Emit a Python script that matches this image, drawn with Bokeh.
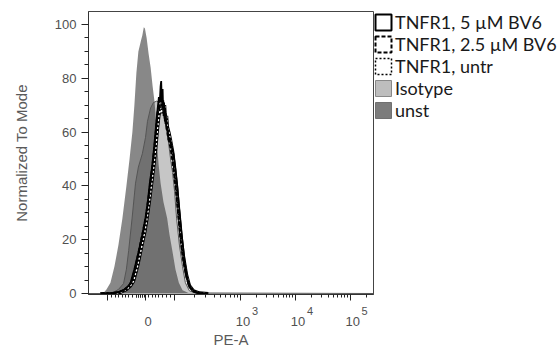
from bokeh.plotting import figure
from bokeh.models import FixedTicker, Range1d, Legend, LegendItem, ColumnDataSource, LinearAxis
from bokeh.embed import file_html
from bokeh.resources import INLINE

nan = float("nan")

# x values are positions on the (logicle) display scale, 0..1000 across the plot
x_ticks = [67, 200, 302, 533, 726, 918]
x_minor = [81, 93, 105, 118, 130, 142, 154, 167, 170, 174, 177, 181, 184, 188, 191, 195,
           212, 224, 235, 247, 261, 274, 287,
           372, 412, 441, 464, 482, 497, 511, 522,
           591, 625, 649, 668, 683, 696, 707, 717,
           784, 818, 842, 860, 875, 888, 899, 909, 976]
label_ticks = [200, 533, 726, 918]
base_labels = {200: "0", 533: "10", 726: "10", 918: "10"}
exp_ticks = [533, 726, 918]
exp_labels = {533: "3", 726: "4", 918: "5"}
y_ticks = [0, 20, 40, 60, 80, 100]
y_minor = [5, 10, 15, 25, 30, 35, 45, 50, 55, 65, 70, 75, 85, 90, 95]

x_unst = [0, 42, 53, 63, 77, 91, 105, 119, 133, 144, 154, 161, 168, 175, 184, 189, 194, 198, 204, 211,
          218, 225, 232, 237, 241, 246, 253, 263, 276, 284, 294, 305, 317, 330, 351, 1000]
y_unst = [0, 0, 0.3, 1.5, 4, 10, 18, 28, 40, 50, 60, 70, 82, 90, 94, 96, 99, 98.5, 95, 89,
          84, 77, 71, 64, 55, 48, 41, 34, 28, 22, 16, 9, 4, 1.2, 0.2, 0]

x_iso = [0, 60, 84, 105, 123, 133, 141, 153, 165, 175, 189, 200, 207, 218, 228, 239, 249, 256, 263, 270,
         281, 288, 295, 302, 309, 319, 330, 340, 354, 375, 1000]
y_iso = [0, 0, 0.3, 1.5, 3.7, 9, 16, 28, 41, 47, 52, 58, 64, 69, 71, 71.5, 71, 70, 67, 63,
         56, 50, 45, 38, 28, 18, 10, 4, 1, 0.2, 0]

x_5uM = [42, 77, 105, 126, 140, 147, 161, 177, 189, 200, 209, 215, 223, 229, 235, 240, 244, 247, 250, 253,
         255, 257, 260, 262, 265, 268, 271, 274, 277, 281, 284, 291, 298, 305, 312, 319, 328, 337, 347, 358,
         372, 393, 420]
y_5uM = [0, 0, 0.5, 1.5, 2.8, 3.7, 9, 16, 22, 28, 35, 41, 47, 53, 60, 66, 70, 73, 71, 77,
         79, 72, 76, 68, 71, 64, 67, 61, 62, 57, 58, 55, 52, 46, 39, 31, 21, 12, 5.5, 2.2,
         0.7, 0.1, 0]

x_25uM = [42, 77, 105, 126, 140, 151, 165, 179, 191, 202, 211, 218, 225, 232, 237, 242, 246, 249, 253, 256,
          259, 262, 264, 268, 271, 274, 278, 282, 288, 295, 302, 309, 316, 324, 333, 344, 354, 368, 389, 420]
y_25uM = [0, 0, 0.4, 1.4, 2.6, 4.5, 10, 17, 23, 29, 36, 42, 48, 55, 61, 67, 70, 68, 73, 74,
          69, 72, 66, 69, 63, 64, 59, 57, 54, 49, 43, 36, 28, 19, 12, 6, 2.5, 0.8, 0.1, 0]

x_untr = [42, 84, 112, 133, 147, 158, 172, 186, 198, 207, 216, 223, 230, 237, 242, 247, 253, 256, 260, 263,
          267, 270, 274, 277, 282, 288, 295, 302, 309, 316, 324, 333, 344, 354, 368, 389, 420]
y_untr = [0, 0, 0.4, 1.5, 2.8, 4.5, 10, 17, 23, 29, 36, 42, 48, 55, 61, 66, 69, 67, 71, 68,
          70, 65, 66, 62, 60, 57, 53, 47, 40, 31, 22, 14, 7, 3, 1, 0.2, 0]

labels = ["TNFR1, 5 \u00b5M BV6", "TNFR1, 2.5 \u00b5M BV6", "TNFR1, untr", "Isotype", "unst"]

p = figure(frame_width=285, frame_height=283, x_range=Range1d(0, 1000), y_range=Range1d(-0.37, 104.83),
           output_backend="svg", toolbar_location=None,
           min_border_left=88, min_border_top=11, min_border_bottom=60, min_border_right=0)
# tick labels sit a little right of their tick, exponents further right
p.extra_x_ranges = {"base": Range1d(-9, 991), "exp": Range1d(-51, 949)}
p.xgrid.visible = False
p.ygrid.visible = False
p.outline_line_color = "#444444"
p.background_fill_color = "white"
p.border_fill_color = "white"

# fills
p.varea(x=x_iso, y1=0, y2=y_iso, fill_color="#c6c6c6")
p.varea(x=x_unst, y1=0, y2=y_unst, fill_color="#383838", fill_alpha=0.6)
p.line(x_iso, y_iso, line_color="#555555", line_width=1)
# untr dotted: black band with white dots
p.line(x_untr, y_untr, line_color="black", line_width=3.2)
p.line(x_untr, y_untr, line_color="white", line_width=1.4, line_dash="2 2")
p.line(x_25uM, y_25uM, line_color="black", line_width=2, line_dash="4 2")
p.line(x_5uM, y_5uM, line_color="black", line_width=1.8)

# legend proxies (one NaN row so the legend swatch is drawn, nothing in the plot)
def proxy(**kw):
    src = ColumnDataSource(dict(left=[nan], right=[nan], top=[nan], bottom=[nan]))
    return p.quad(left="left", right="right", top="top", bottom="bottom", source=src, **kw)

r1 = proxy(fill_color=None, line_color="black", line_width=2)
r2 = proxy(fill_color=None, line_color="black", line_width=2, line_dash="4 2")
r3 = proxy(fill_color=None, line_color="black", line_width=1.5, line_dash="2 2")
r4 = proxy(fill_color="#bdbdbd", line_color="#888888", line_width=1)
r5 = proxy(fill_color="#7c7c7c", line_color="#707070", line_width=1)

legend = Legend(items=[LegendItem(label=l, renderers=[r]) for l, r in zip(labels, [r1, r2, r3, r4, r5])],
                location="top_left", glyph_width=20, glyph_height=20, label_height=20, spacing=-1,
                padding=0, margin=0, border_line_color=None, background_fill_alpha=0,
                label_standoff=2, label_text_font="Lato", label_text_font_size="18px",
                label_text_color="#1a1a1a")
p.add_layout(legend, "right")

def style(ax):
    ax.axis_line_color = "#333333"
    ax.major_tick_line_color = "#222222"
    ax.minor_tick_line_color = "#222222"
    ax.major_tick_in = 0
    ax.minor_tick_in = 0
    ax.major_label_text_font = "Liberation Sans"
    ax.major_label_text_font_size = "13px"
    ax.major_label_text_color = "#505050"
    ax.axis_label_text_font = "Liberation Sans"
    ax.axis_label_text_font_size = "15px"
    ax.axis_label_text_font_style = "normal"
    ax.axis_label_text_color = "#5a5a5a"

def bare(ax):
    ax.axis_line_color = None
    ax.major_tick_line_color = None
    ax.minor_tick_line_color = None
    ax.major_tick_out = 0
    ax.minor_tick_out = 0

# x axis 1: line and ticks only
xa = p.xaxis[0]
style(xa)
xa.ticker = FixedTicker(ticks=x_ticks, minor_ticks=x_minor)
xa.major_label_overrides = {t: "" for t in x_ticks}
xa.major_label_text_font_size = "0px"
xa.major_label_standoff = 0
xa.major_tick_out = 6
xa.minor_tick_out = 3

# x axis 2: decade exponents
xe = LinearAxis(x_range_name="exp", ticker=FixedTicker(ticks=exp_ticks, minor_ticks=[]))
style(xe)
bare(xe)
xe.major_label_overrides = exp_labels
xe.major_label_text_font_size = "11px"
xe.major_label_standoff = 6
p.add_layout(xe, "below")

# x axis 3: base labels and title
xb = LinearAxis(x_range_name="base", ticker=FixedTicker(ticks=label_ticks, minor_ticks=[]))
style(xb)
bare(xb)
xb.major_label_overrides = base_labels
xb.major_label_standoff = -1
xb.axis_label = "PE-A"
xb.axis_label_standoff = 2
p.add_layout(xb, "below")

p.yaxis.ticker = FixedTicker(ticks=y_ticks, minor_ticks=y_minor)
style(p.yaxis[0])
p.yaxis.major_tick_out = 7
p.yaxis.minor_tick_out = 4
p.yaxis.major_label_standoff = 5
p.yaxis.axis_label = "Normalized To Mode"
p.yaxis.axis_label_standoff = 22

open("out.html", "w").write(file_html(p, INLINE))
